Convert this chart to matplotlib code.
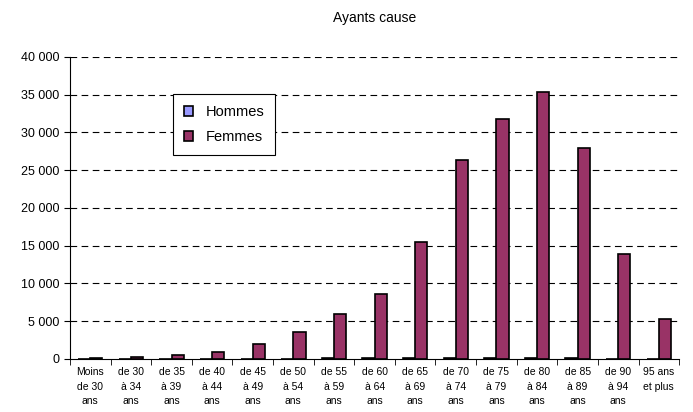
import numpy as np
import matplotlib
matplotlib.use("Agg")
from matplotlib import pyplot as plt

plt.rcParams['font.family'] = ['Liberation Sans', 'DejaVu Sans']

categories = ["Moins\nde 30\nans", "de 30\nà 34\nans", "de 35\nà 39\nans", "de 40\nà 44\nans",
              "de 45\nà 49\nans", "de 50\nà 54\nans", "de 55\nà 59\nans", "de 60\nà 64\nans",
              "de 65\nà 69\nans", "de 70\nà 74\nans", "de 75\nà 79\nans", "de 80\nà 84\nans",
              "de 85\nà 89\nans", "de 90\nà 94\nans", "95 ans\net plus"]
hommes = [40, 30, 20, 20, 30, 40, 50, 60, 70, 80, 90, 90, 70, 40, 20]
femmes = [100, 200, 450, 900, 2000, 3600, 6000, 8550, 15500, 26350, 31750, 35350, 27950, 13950, 5250]
yticks = [0, 5000, 10000, 15000, 20000, 25000, 30000, 35000, 40000]

fig = plt.figure(figsize=(6.93, 4.12), dpi=100)
ax = fig.add_axes([0.101, 0.129, 0.879, 0.733])

x = np.arange(len(categories))
w = 0.3
ax.bar(x - w/2, hommes, w, color='#9999FF', edgecolor='black', linewidth=1.2, label='Hommes', zorder=3)
ax.bar(x + w/2, femmes, w, color='#993366', edgecolor='black', linewidth=1.2, label='Femmes', zorder=3)

ax.set_xlim(-0.5, len(categories) - 0.5)
ax.set_ylim(0, 40000)
ax.set_yticks(yticks)
ax.set_yticklabels(["{:,}".format(v).replace(",", " ") for v in yticks], fontsize=9)
for v in yticks[1:]:
    ax.axhline(v, color='black', linestyle=(0, (6, 4)), linewidth=0.8, zorder=1)

ax.set_xticks(x)
ax.set_xticklabels(categories, fontsize=7.5, linespacing=1.55)
ax.tick_params(axis='x', length=0, pad=6)
ax.set_xticks(np.arange(-0.5, len(categories)), minor=True)
ax.tick_params(axis='x', which='minor', length=4, direction='out')
ax.tick_params(axis='y', length=4, direction='out')

ax.spines['top'].set_visible(False)
ax.spines['right'].set_visible(False)

ax.set_title("Ayants cause", fontsize=10, pad=25)

leg = ax.legend(loc='upper left', bbox_to_anchor=(0.169, 0.876), borderaxespad=0, fontsize=10.5,
                fancybox=False, framealpha=1, edgecolor='black', handlelength=0.6, handleheight=0.6,
                handletextpad=0.9, labelspacing=0.75, borderpad=0.75)
leg.get_frame().set_linewidth(0.8)

fig.savefig("out.png", dpi=100)
